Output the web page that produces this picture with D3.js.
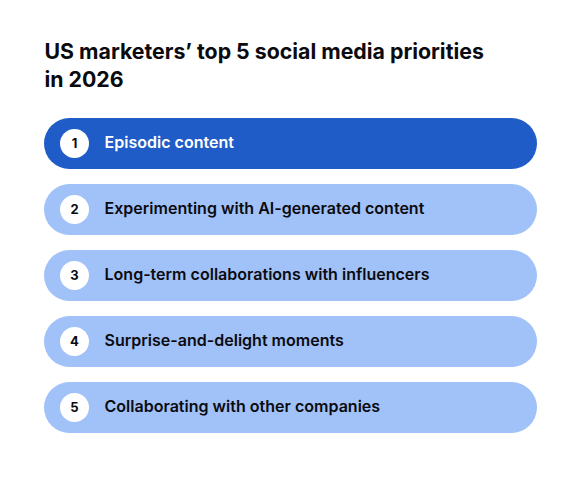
<!DOCTYPE html>
<html><head><meta charset="utf-8">
<script src="https://cdn.jsdelivr.net/npm/d3@7"></script>
<style>html,body{margin:0;background:#fff}svg{display:block}text{font-family:Inter,"Open Sans",sans-serif}</style>
</head><body><svg id="c" width="587" height="487"></svg>
<script>
const titleLines = ["US marketers’ top 5 social media priorities", "in 2026"];
const ranks = [1, 2, 3, 4, 5];
const labels = ["Episodic content", "Experimenting with AI-generated content", "Long-term collaborations with influencers", "Surprise-and-delight moments", "Collaborating with other companies"];
const svg = d3.select("#c");
svg.selectAll("text.title").data(titleLines).join("text").attr("class","title")
  .attr("x",44.5).attr("y",(d,i)=>58.8+i*28.5).attr("font-size",21.3).attr("font-weight",700).attr("fill","#0b0b0f").text(d=>d);
const y = d3.scaleBand().domain(ranks).range([118,433]).paddingInner(15/66).paddingOuter(0);
const g = svg.selectAll("g.row").data(ranks).join("g").attr("class","row");
g.append("rect").attr("x",44).attr("y",d=>y(d)).attr("width",493).attr("height",y.bandwidth()).attr("rx",y.bandwidth()/2)
  .attr("fill",d=>d===1?"#1f5cc7":"#a1c1f9");
g.append("circle").attr("cx",74.5).attr("cy",d=>y(d)+y.bandwidth()/2).attr("r",14.5).attr("fill","#fff");
g.append("text").attr("x",74.5).attr("y",d=>y(d)+y.bandwidth()/2+4.5).attr("text-anchor","middle").attr("font-size",13).attr("font-weight",700).attr("fill","#0b0b0f").text(d=>d);
g.append("text").attr("x",104.5).attr("y",d=>y(d)+y.bandwidth()/2+4.5).attr("font-size",16.05).attr("font-weight",600).attr("fill",d=>d===1?"#fff":"#0b0b0f").text((d,i)=>labels[i]);
</script></body></html>
